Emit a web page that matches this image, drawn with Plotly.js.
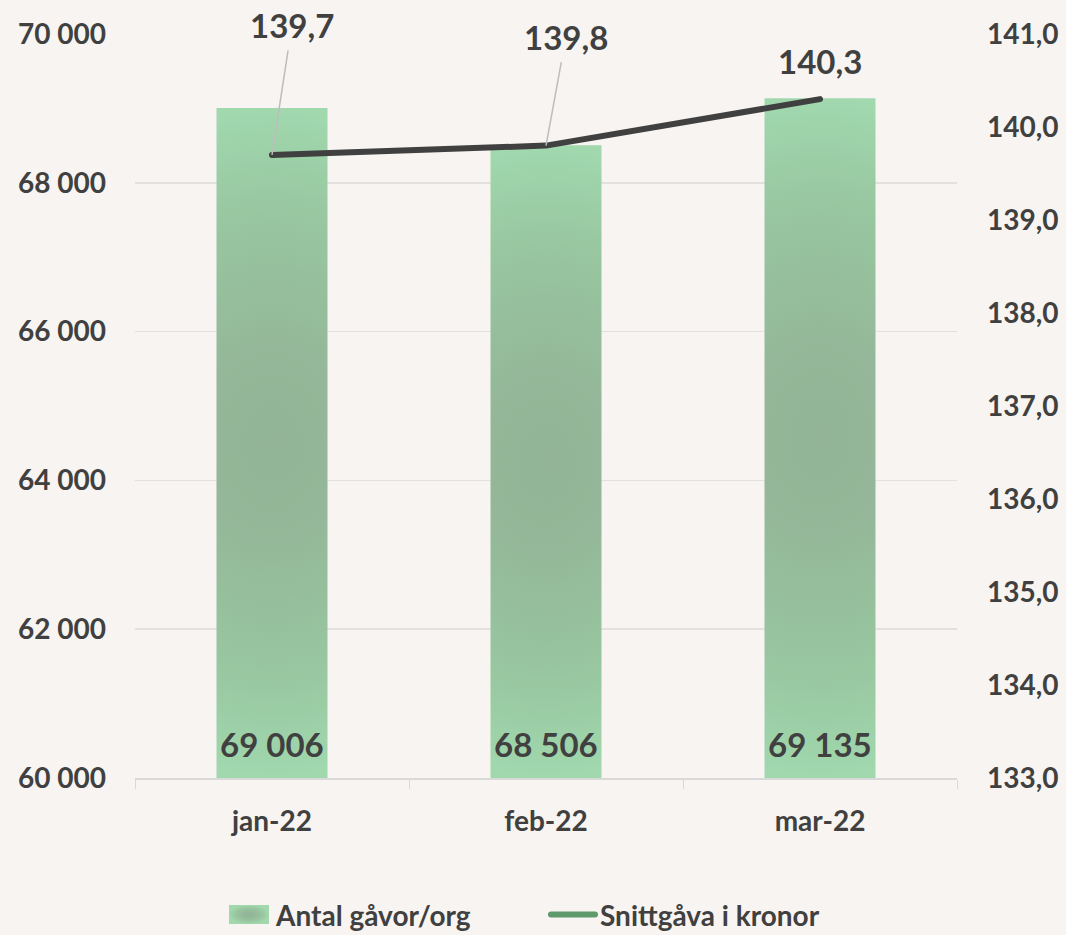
<!DOCTYPE html>
<html><head><meta charset="utf-8">
<script src="https://cdn.plot.ly/plotly-3.0.1.min.js"></script>
<style>html,body{margin:0;padding:0;background:#f7f4f1;}#chart{width:1066px;height:935px;}</style>
</head><body><div id="chart"></div>
<script>
const months = ['jan-22', 'feb-22', 'mar-22'];
const gifts = [69006, 68506, 69135];
const avgGift = [139.7, 139.8, 140.3];
const leftTicks = [60000, 62000, 64000, 66000, 68000, 70000];
const rightTicks = [133, 134, 135, 136, 137, 138, 139, 140, 141];
const seriesNames = ['Antal gåvor/org', 'Snittgåva i kronor'];

const FONT = 'Lato, "Noto Sans", sans-serif';
const TXT = '#404040';
const fmtThousands = v => String(v).replace(/\B(?=(\d{3})+(?!\d))/g, '\u00a0');
const fmtDec = v => v.toFixed(1).replace('.', ',');

const bars = {
  type: 'bar', x: months, y: gifts, name: seriesNames[0], yaxis: 'y',
  width: 0.405, marker: {color: '#9ccaa4', line: {width: 0}},
  hoverinfo: 'none'
};
const line = {
  type: 'scatter', mode: 'lines', x: months, y: avgGift, name: seriesNames[1], yaxis: 'y2',
  line: {color: '#404040', width: 6}, hoverinfo: 'none'
};

const annotations = [];
gifts.forEach((v, i) => annotations.push({
  x: months[i], y: leftTicks[0], xref: 'x', yref: 'y', text: fmtThousands(v),
  showarrow: false, yanchor: 'bottom', yshift: 12,
  font: {family: FONT, size: 33, color: TXT, weight: 700}
}));
const offs = [[20, -130], [20, -109], null];
avgGift.forEach((v, i) => {
  const a = {
    x: months[i], y: v, xref: 'x', yref: 'y2', text: fmtDec(v),
    font: {family: FONT, size: 33, color: TXT, weight: 700}
  };
  if (offs[i]) {
    Object.assign(a, {showarrow: true, ax: offs[i][0], ay: offs[i][1], arrowhead: 0,
      arrowcolor: '#bdbdbd', arrowwidth: 1.5, borderpad: 5});
  } else {
    Object.assign(a, {showarrow: false, yshift: 38});
  }
  annotations.push(a);
});

const layout = {
  width: 1066, height: 935,
  paper_bgcolor: '#f7f4f1', plot_bgcolor: '#f7f4f1',
  margin: {l: 135, r: 109, t: 34, b: 157, autoexpand: false},
  separators: ',\u00a0',
  font: {family: FONT, color: TXT, size: 28, weight: 700},
  showlegend: true,
  legend: {orientation: 'h', x: 0.5, xanchor: 'center', y: -0.184, yanchor: 'middle',
    font: {family: FONT, size: 28, color: TXT, weight: 700}, itemwidth: 44, entrywidth: 265,
    traceorder: 'normal'},
  xaxis: {type: 'category', tickson: 'boundaries', ticks: 'outside', ticklen: 9, tickcolor: '#d9d9d9',
    showline: true, linecolor: '#d9d9d9', linewidth: 1.5, showgrid: false, ticklabelstandoff: 18,
    tickfont: {family: FONT, size: 28, color: TXT, weight: 700}, fixedrange: true},
  yaxis: {range: [60000, 70000], tickvals: leftTicks, ticktext: leftTicks.map(fmtThousands),
    showgrid: true, gridcolor: '#e3e1de', gridwidth: 1.5, zeroline: false, showline: false,
    ticklabelstandoff: 28, tickfont: {family: FONT, size: 28, color: TXT, weight: 700}},
  yaxis2: {range: [133, 141], tickvals: rightTicks, ticktext: rightTicks.map(fmtDec), overlaying: 'y', side: 'right',
    showgrid: false, zeroline: false, showline: false, ticklabelstandoff: 29,
    tickfont: {family: FONT, size: 28, color: TXT, weight: 700}},
  annotations: annotations,
  bargap: 0.5
};

Plotly.newPlot('chart', [bars, line], layout, {displayModeBar: false, staticPlot: true}).then(gd => {
  const svg = gd.querySelector('svg.main-svg');
  const NS = 'http://www.w3.org/2000/svg';
  const defs = svg.querySelector('defs');
  const stops = [['0', '#93b497'], ['0.3', '#94b899'], ['0.7', '#98c7a0'], ['1', '#a1d8ae']];
  function mkGrad(id, attrs) {
    const g = document.createElementNS(NS, 'radialGradient');
    g.setAttribute('id', id);
    Object.entries(attrs || {}).forEach(([k, v]) => g.setAttribute(k, v));
    stops.forEach(([o, c]) => {
      const s = document.createElementNS(NS, 'stop');
      s.setAttribute('offset', o); s.setAttribute('stop-color', c);
      g.appendChild(s);
    });
    defs.appendChild(g);
  }
  const plotBottom = gd._fullLayout.yaxis._length;
  gd.querySelectorAll('.trace.bars .point path').forEach((p, i) => {
    const bb = p.getBBox();
    const top = bb.y;
    const bottom = Math.min(bb.y + bb.height, plotBottom);
    const cx = bb.x + bb.width / 2, cy = (top + bottom) / 2, r = (bottom - top) / 2;
    const id = 'barGrad' + i;
    mkGrad(id, {gradientUnits: 'userSpaceOnUse', cx: cx, cy: cy, r: r, fx: cx, fy: cy,
      gradientTransform: `translate(${cx},${cy}) scale(0.75,1) translate(${-cx},${-cy})`});
    p.style.fill = `url(#${id})`;
  });
  gd.querySelectorAll('.trace.scatter .js-line').forEach(l => {
    l.style.strokeLinecap = 'round'; l.style.strokeLinejoin = 'round';
  });
  mkGrad('legGrad', null);
  const legendTraces = gd.querySelectorAll('.legend .traces');
  if (legendTraces[0]) {
    const p = legendTraces[0].querySelector('.legendpoints path');
    if (p) { p.setAttribute('d', 'M20,9.5H-20V-9.5H20Z'); p.style.fill = 'url(#legGrad)'; }
  }
  if (legendTraces[1]) {
    const l = legendTraces[1].querySelector('.js-line');
    if (l) { l.style.stroke = '#5f9a6d'; l.style.strokeWidth = '6px'; l.style.strokeLinecap = 'round'; }
  }
});
</script>
</body></html>
